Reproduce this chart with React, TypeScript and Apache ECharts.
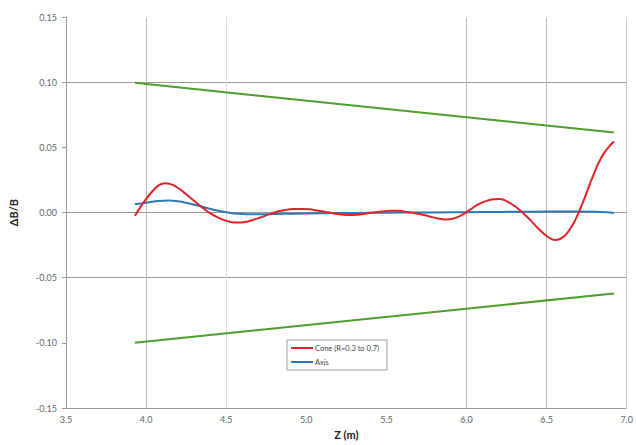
import React, { useEffect, useRef } from "react";
import * as echarts from "echarts";

const xTicks = [3.5, 4.0, 4.5, 5.0, 5.5, 6.0, 6.5, 7.0];
const yTicks = [-0.15, -0.1, -0.05, 0, 0.05, 0.1, 0.15];

const coneZ = [3.93, 3.98, 4.03, 4.08, 4.12, 4.17, 4.22, 4.27, 4.32, 4.37, 4.42, 4.47, 4.52, 4.57, 4.62, 4.67, 4.72, 4.77, 4.82, 4.87, 4.92, 4.97, 5.02, 5.07, 5.12, 5.17, 5.22, 5.27, 5.32, 5.37, 5.42, 5.47, 5.52, 5.57, 5.62, 5.67, 5.72, 5.77, 5.82, 5.87, 5.92, 5.97, 6.02, 6.07, 6.12, 6.17, 6.21, 6.25, 6.3, 6.35, 6.4, 6.45, 6.5, 6.55, 6.58, 6.62, 6.66, 6.7, 6.74, 6.78, 6.82, 6.86, 6.9, 6.92];
const coneVal = [-0.0025, 0.007, 0.015, 0.021, 0.0225, 0.021, 0.017, 0.012, 0.007, 0.002, -0.002, -0.005, -0.007, -0.0077, -0.0072, -0.0055, -0.0035, -0.0012, 0.0008, 0.002, 0.0027, 0.0028, 0.0025, 0.0015, 0.0005, -0.0007, -0.0015, -0.0019, -0.0016, -0.0008, 0.0, 0.0008, 0.0013, 0.0013, 0.0007, -0.0003, -0.0015, -0.003, -0.0045, -0.0053, -0.0045, -0.002, 0.002, 0.006, 0.0088, 0.0102, 0.0103, 0.0088, 0.005, 0.0, -0.006, -0.0125, -0.018, -0.021, -0.0205, -0.017, -0.01, 0.0, 0.012, 0.025, 0.037, 0.046, 0.052, 0.0545];

const axisZ = [3.93, 4.0, 4.07, 4.14, 4.21, 4.28, 4.35, 4.42, 4.49, 4.56, 4.63, 4.72, 4.85, 5.0, 5.2, 5.4, 5.6, 5.8, 6.0, 6.2, 6.4, 6.6, 6.8, 6.88, 6.92];
const axisVal = [0.0063, 0.0076, 0.0088, 0.0093, 0.0085, 0.0066, 0.0045, 0.0022, 0.0005, -0.0008, -0.0013, -0.0013, -0.001, -0.0007, -0.0004, -0.0002, 0.0, 0.0001, 0.0003, 0.0005, 0.0007, 0.0008, 0.0007, 0.0003, -0.0004];

const limZ = [3.93, 6.92];
const upperLim = [0.0995, 0.0614];
const lowerLim = [-0.0998, -0.0621];

const coneName = "Cone (R=0.3 to 0.7)";
const axisName = "Axis";

const zip = (xs: number[], ys: number[]) => xs.map((x, i) => [x, ys[i]]);

export default function App() {
  const ref = useRef<HTMLDivElement>(null);
  useEffect(() => {
    if (!ref.current) return;
    const chart = echarts.init(ref.current, null, { renderer: "svg" });
    const font = "Lato, 'Open Sans', sans-serif";
    chart.setOption({
      animation: false,
      backgroundColor: "#ffffff",
      textStyle: { fontFamily: font },
      grid: { left: 63, right: 6, top: 17, bottom: 33 },
      legend: {
        data: [coneName, axisName],
        orient: "vertical",
        left: 287,
        top: 340,
        icon: "rect",
        itemWidth: 22,
        itemHeight: 2,
        itemGap: 6,
        padding: [4, 8, 4, 4],
        borderColor: "#999",
        borderWidth: 1,
        backgroundColor: "#fff",
        textStyle: { fontSize: 7.5, color: "#444", fontFamily: font, padding: [0, 0, 0, -3] },
      },
      xAxis: {
        type: "value",
        min: xTicks[0],
        max: xTicks[xTicks.length - 1],
        interval: 0.5,
        name: "Z (m)",
        nameLocation: "middle",
        nameGap: 18,
        nameTextStyle: { fontSize: 11, fontWeight: "bold", color: "#222", fontFamily: font },
        axisLine: { show: true, lineStyle: { color: "#999", width: 1 } },
        axisTick: { show: false },
        axisLabel: { fontSize: 9, color: "#666", margin: 7, formatter: (v: number) => v.toFixed(1) },
        splitLine: {
          show: true,
          lineStyle: {
            color: ["#bbb", "#bbb", "#ddd", "rgba(0,0,0,0)", "rgba(0,0,0,0)", "#bbb", "#bbb", "#ccc"],
            width: 1,
          },
        },
      },
      yAxis: {
        type: "value",
        min: yTicks[0],
        max: yTicks[yTicks.length - 1],
        interval: 0.05,
        name: "ΔB/B",
        nameLocation: "middle",
        nameGap: 47,
        nameRotate: 90,
        nameTextStyle: { fontSize: 11, fontWeight: "bold", color: "#222", fontFamily: font },
        axisLine: { show: true, lineStyle: { color: "#999", width: 1 } },
        axisTick: { show: true, length: 4, lineStyle: { color: "#999" } },
        axisLabel: { fontSize: 9, color: "#666", margin: 9, formatter: (v: number) => v.toFixed(2) },
        splitLine: {
          show: true,
          lineStyle: {
            color: ["#999", "rgba(0,0,0,0)", "#999", "#999", "rgba(0,0,0,0)", "#999", "rgba(0,0,0,0)"],
            width: 1,
          },
        },
      },
      series: [
        {
          name: "upper",
          type: "line",
          data: zip(limZ, upperLim),
          showSymbol: false,
          symbol: "none",
          lineStyle: { color: "#4f9d2a", width: 2 },
          itemStyle: { color: "#4f9d2a" },
        },
        {
          name: "lower",
          type: "line",
          data: zip(limZ, lowerLim),
          showSymbol: false,
          symbol: "none",
          lineStyle: { color: "#4f9d2a", width: 2 },
          itemStyle: { color: "#4f9d2a" },
        },
        {
          name: axisName,
          type: "line",
          data: zip(axisZ, axisVal),
          smooth: 0.3,
          showSymbol: false,
          symbol: "none",
          lineStyle: { color: "#2a78b4", width: 2 },
          itemStyle: { color: "#2a78b4" },
          z: 3,
        },
        {
          name: coneName,
          type: "line",
          data: zip(coneZ, coneVal),
          smooth: 0.3,
          showSymbol: false,
          symbol: "none",
          lineStyle: { color: "#e0232a", width: 2 },
          itemStyle: { color: "#e0232a" },
          z: 4,
        },
      ],
    });
    return () => chart.dispose();
  }, []);
  return <div ref={ref} style={{ position: "fixed", left: 0, top: 0, width: 636, height: 445 }} />;
}
